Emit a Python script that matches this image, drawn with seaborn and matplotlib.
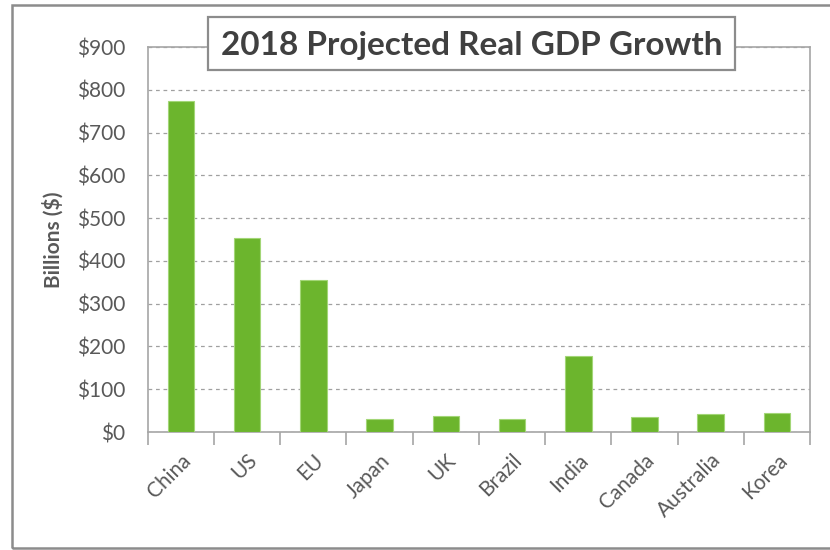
import matplotlib
matplotlib.use("Agg")
import matplotlib.pyplot as plt
import seaborn as sns
import pandas as pd
from matplotlib.patches import Rectangle
from matplotlib.ticker import FuncFormatter, FixedLocator

countries = ["China", "US", "EU", "Japan", "UK", "Brazil", "India", "Canada", "Australia", "Korea"]
growth = [774, 453, 355, 31, 38, 31, 178, 35, 41, 44]
y_ticks = [0, 100, 200, 300, 400, 500, 600, 700, 800, 900]

df = pd.DataFrame({"country": countries, "growth": growth})

sns.set_style("white")
plt.rcParams["font.family"] = ["Lato", "DejaVu Sans"]

grey_text = "#595959"
grey_line = "#a6a6a6"

fig = plt.figure(figsize=(8.3, 5.5), dpi=100)
ax = fig.add_axes([0.178, 0.2145, 0.976 - 0.178, 0.9145 - 0.2145])

sns.barplot(data=df, x="country", y="growth", color="#6cb52d", saturation=1,
            width=0.4, edgecolor="#a3d677", linewidth=0.8, ax=ax, zorder=3)

ax.set_ylim(0, 900)
ax.set_xlim(-0.5, len(countries) - 0.5)
ax.set_yticks(y_ticks)
ax.yaxis.set_major_formatter(FuncFormatter(lambda v, p: f"${int(v)}"))
ax.tick_params(axis="y", length=0, labelsize=15, labelcolor=grey_text, pad=16)
ax.tick_params(axis="x", which="major", length=0, labelsize=15, labelcolor=grey_text, pad=13)
ax.xaxis.set_minor_locator(FixedLocator([i - 0.5 for i in range(len(countries) + 1)]))
ax.tick_params(axis="x", which="minor", bottom=True, length=9, width=1.2,
               color=grey_line, direction="out")
plt.setp(ax.get_xticklabels(), rotation=45, ha="right", rotation_mode="anchor")

ax.grid(axis="y", color="#a0a0a0", linestyle=(0, (3, 3)), linewidth=0.9, zorder=0)
for s in ax.spines.values():
    s.set_color(grey_line)
    s.set_linewidth(1.2)

ax.set_xlabel("")
ax.set_ylabel("Billions ($)", fontsize=15, fontweight="bold", color=grey_text, labelpad=10)

# title box (white box covering the top spine)
fig.patches.append(Rectangle((208 / 830, 480 / 550), 527 / 830, 53 / 550, transform=fig.transFigure,
                             facecolor="white", edgecolor="#8c8c8c", linewidth=1.6, zorder=2))
fig.text(0.568, 0.918, "2018 Projected Real GDP Growth", fontsize=24, fontweight="bold",
         color="#404040", ha="center", va="center", zorder=3)

fig.patches.append(Rectangle((12 / 830, 2 / 550), 1.0, 543 / 550, transform=fig.transFigure,
                             fill=False, edgecolor="#8c8c8c", linewidth=1.8))

fig.savefig("out.png", dpi=100)
